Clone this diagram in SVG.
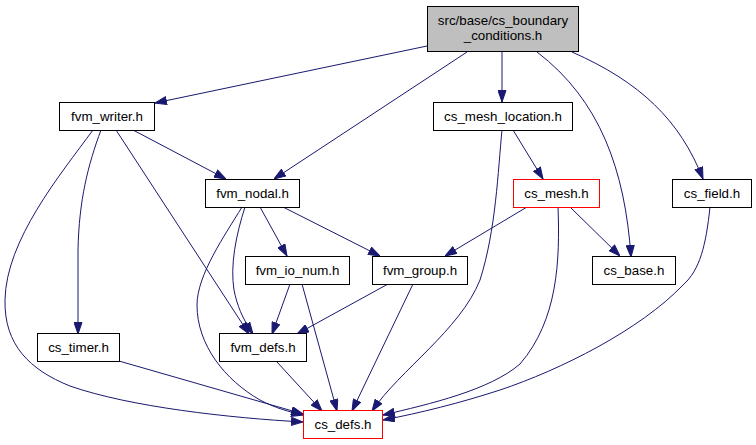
<svg xmlns="http://www.w3.org/2000/svg" width="756" height="445" viewBox="0 0 756 445">
<style>
.box{fill:#ffffff;stroke:#000000;stroke-width:1}
.root{fill:#bfbfbf}
.redbox{fill:#ffffff;stroke:#ff0000;stroke-width:1}
.node text{font-family:"Liberation Sans",Arial,Helvetica,sans-serif;font-size:13.33px;fill:#000000;text-anchor:middle}
.edges path{fill:none;stroke:#191970;stroke-width:1;marker-end:url(#arr)}
</style>
<defs>
<marker id="arr" viewBox="0 0 12 9" refX="12" refY="4.5" markerWidth="12" markerHeight="9" markerUnits="userSpaceOnUse" orient="auto">
<path d="M0.5,0.5 L12,4.5 L0.5,8.5 z" fill="#191970" stroke="#191970" stroke-width="1"/>
</marker>
</defs>
<rect width="756" height="445" fill="#ffffff"/>
<g class="edges" id="edges">
<path d="M427,46 L155,103"/>
<path d="M467,52 L274,179"/>
<path d="M502,52 L502,102"/>
<path d="M537,52 C600,100 625,170 631,257"/>
<path d="M572,52 C640,82 680,120 703,179"/>
<path d="M133,130 L226,179"/>
<path d="M116,130 L249,334"/>
<path d="M101,130 C88,165 79,200 78,250 L78,334"/>
<path d="M93,130 C60,175 6,240 5,300 C4,345 30,370 70,386 C130,407 230,418 303,422"/>
<path d="M260,207 L287,256"/>
<path d="M283,207 L380,256"/>
<path d="M245,207 C236,235 230,265 234,290 C237,305 242,318 253,334"/>
<path d="M242,207 C225,235 197,275 197,305 C197,345 225,380 260,400 C275,408 290,412 303,415"/>
<path d="M513,130 L543,179"/>
<path d="M502,130 C498,170 496,230 480,280 C460,330 400,370 372,411"/>
<path d="M527,207 L445,256"/>
<path d="M570,207 L620,256"/>
<path d="M558,207 C560,260 558,320 520,364 C490,390 430,404 383,415"/>
<path d="M290,284 L272,334"/>
<path d="M302,284 L337,411"/>
<path d="M388,284 L297,334"/>
<path d="M413,284 L352,411"/>
<path d="M119,361 L303,414"/>
<path d="M277,362 L322,411"/>
<path d="M710,207 C706,245 700,270 683,285 C640,330 560,370 500,390 C460,403 420,413 383,420"/>
</g>
<g class="node" id="node_cs_boundary_conditions">
<rect class="box root" x="427.5" y="6.5" width="151" height="45"/>
<text x="503" y="25">src/base/cs_boundary</text>
<text x="503" y="40">_conditions.h</text>
</g>
<g class="node" id="node_fvm_writer">
<rect class="box" x="59.5" y="102.5" width="95" height="28"/>
<text x="107" y="120.5">fvm_writer.h</text>
</g>
<g class="node" id="node_cs_mesh_location">
<rect class="box" x="433.5" y="102.5" width="139" height="28"/>
<text x="503" y="120.5">cs_mesh_location.h</text>
</g>
<g class="node" id="node_fvm_nodal">
<rect class="box" x="205.5" y="179.5" width="94" height="28"/>
<text x="252.5" y="197.5">fvm_nodal.h</text>
</g>
<g class="node" id="node_cs_mesh">
<rect class="redbox" x="513.5" y="179.5" width="86" height="28"/>
<text x="556.5" y="197.5">cs_mesh.h</text>
</g>
<g class="node" id="node_cs_field">
<rect class="box" x="672.5" y="179.5" width="79" height="28"/>
<text x="712" y="197.5">cs_field.h</text>
</g>
<g class="node" id="node_fvm_io_num">
<rect class="box" x="245.5" y="256.5" width="104" height="28"/>
<text x="297.5" y="274.5">fvm_io_num.h</text>
</g>
<g class="node" id="node_fvm_group">
<rect class="box" x="372.5" y="256.5" width="95" height="28"/>
<text x="420" y="274.5">fvm_group.h</text>
</g>
<g class="node" id="node_cs_base">
<rect class="box" x="592.5" y="256.5" width="83" height="28"/>
<text x="634" y="274.5">cs_base.h</text>
</g>
<g class="node" id="node_cs_timer">
<rect class="box" x="37.5" y="333.5" width="82" height="28"/>
<text x="78.5" y="351.5">cs_timer.h</text>
</g>
<g class="node" id="node_fvm_defs">
<rect class="box" x="219.5" y="333.5" width="87" height="28"/>
<text x="263" y="351.5">fvm_defs.h</text>
</g>
<g class="node" id="node_cs_defs">
<rect class="redbox" x="303.5" y="410.5" width="79" height="28"/>
<text x="343" y="428.5">cs_defs.h</text>
</g>
</svg>
